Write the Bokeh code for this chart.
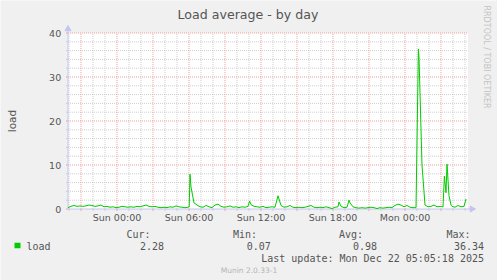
import datetime as dt
import math
from bokeh.plotting import figure
from bokeh.models import Range1d
from bokeh.core.properties import value
from bokeh.embed import file_html
from bokeh.resources import INLINE

# ---------------- data ----------------
start = dt.datetime(2025, 12, 20, 19, 55)   # Sat 19:55, first sample
minutes = [0, 15, 30, 45, 60, 75, 90, 105, 120, 135, 150, 165, 180, 195, 210, 225,
           240, 255, 270, 285, 300, 315, 330, 345, 360, 375, 390, 405, 420, 435, 450,
           465, 480, 495, 510, 525, 540, 555, 570, 585, 600, 606, 610, 615, 630, 645,
           660, 675, 690, 705, 720, 735, 750, 765, 780, 795, 810, 825, 840, 855, 870,
           885, 900, 908, 915, 930, 945, 960, 975, 990, 1005, 1020, 1035, 1050, 1065,
           1080, 1095, 1110, 1125, 1140, 1155, 1170, 1185, 1200, 1215, 1230, 1245,
           1260, 1275, 1290, 1305, 1320, 1335, 1350, 1355, 1365, 1380, 1395, 1405,
           1410, 1425, 1440, 1455, 1470, 1485, 1500, 1515, 1530, 1545, 1560, 1575,
           1590, 1605, 1620, 1635, 1650, 1665, 1680, 1695, 1710, 1725, 1740, 1752,
           1755, 1770, 1785, 1800, 1815, 1830, 1845, 1860, 1875, 1882, 1890, 1895,
           1905, 1915, 1920, 1935, 1950, 1965, 1980, 1990]
load = [0.3, 0.6, 0.8, 0.6, 0.7, 0.6, 0.7, 0.9, 0.8, 0.6, 0.7, 0.9, 0.5, 0.6, 0.4, 0.5,
        0.3, 0.4, 0.6, 0.5, 0.4, 0.5, 0.4, 0.6, 0.5, 0.7, 0.9, 0.6, 0.5, 0.6, 0.4,
        0.3, 0.4, 0.3, 0.5, 0.4, 0.7, 0.5, 0.4, 0.3, 0.4, 0.5, 7.9, 5.0, 1.4, 0.9,
        0.5, 0.4, 0.8, 0.5, 0.3, 0.9, 1.1, 0.6, 0.4, 0.5, 0.7, 0.4, 0.5, 0.3, 0.5,
        0.4, 0.6, 1.8, 1.0, 0.6, 0.5, 0.4, 0.6, 0.3, 0.4, 0.5, 0.4, 3.0, 0.8,
        0.4, 0.5, 0.8, 0.4, 0.3, 0.4, 0.3, 0.4, 0.6, 0.8, 0.4, 0.3,
        0.4, 0.3, 0.5, 0.3, 0.1, 0.4, 0.5, 1.6, 0.6, 0.3, 0.4, 2.0,
        1.4, 0.5, 0.3, 0.2, 0.3, 0.2, 0.3, 0.4, 0.3, 0.1, 0.3, 0.2,
        0.3, 0.4, 0.3, 0.8, 1.1, 0.9, 0.5, 0.8, 0.4, 0.3, 0.3, 36.34,
        34.5, 10.0, 0.9, 0.5, 0.6, 0.9, 0.5, 0.6, 0.5, 7.5, 3.7, 10.2,
        3.0, 0.9, 0.6, 0.4, 0.8, 0.5, 0.6, 2.28]

y_ticks = [0, 10, 20, 30, 40]
y_minor = [2, 4, 6, 8, 12, 14, 16, 18, 22, 24, 26, 28, 32, 34, 36, 38]
x_label_times = [dt.datetime(2025, 12, 21, 0), dt.datetime(2025, 12, 21, 6),
                 dt.datetime(2025, 12, 21, 12), dt.datetime(2025, 12, 21, 18),
                 dt.datetime(2025, 12, 22, 0)]
x_label_texts = ["Sun 00:00", "Sun 06:00", "Sun 12:00", "Sun 18:00", "Mon 00:00"]

series_name = "load"
stat_names = ["Cur:", "Min:", "Avg:", "Max:"]
stat_values = [2.28, 0.07, 0.98, 36.34]
title_text = "Load average - by day"
y_label = "load"
last_update = "Last update: Mon Dec 22 05:05:18 2025"
footer = "Munin 2.0.33-1"
side_text = "RRDTOOL / TOBI OETIKER"

# ---------------- geometry (canvas pixels -> data) ----------------
W, H = 497, 280
PX_MIN = 5.0            # minutes per pixel (400 px = 2000 min)
PX_UNIT = 4.4           # pixels per load unit
START_PX = 67.5         # canvas x of first sample
ZERO_PX = 208.5         # canvas y of load 0


def tx(cx):
    return start + dt.timedelta(minutes=(cx - START_PX) * PX_MIN)


def vy(cy):
    return (ZERO_PX - cy) / PX_UNIT


t_lo = start - dt.timedelta(minutes=0)       # frame left edge
t_hi = start + dt.timedelta(minutes=2000)     # frame right edge
v_lo, v_hi = 0, 40

times = [start + dt.timedelta(minutes=m) for m in minutes]

hour0 = dt.datetime(2025, 12, 20, 20)
all_hours = [hour0 + dt.timedelta(hours=k) for k in range(34)]
red_hours = [h for h in all_hours if h.hour % 3 == 0]
grey_hours = [h for h in all_hours if h.hour % 3 != 0]

p = figure(width=W, height=H, x_axis_type="datetime",
           x_range=Range1d(tx(0), tx(W)), y_range=Range1d(vy(H), vy(0)),
           x_axis_location=None, y_axis_location=None,
           output_backend="svg", toolbar_location=None,
           min_border=0, background_fill_color="#f0f0f0",
           border_fill_color="#f0f0f0", outline_line_color=None)
p.grid.visible = False

# plot area
p.quad(left=[t_lo], right=[t_hi], bottom=[v_lo], top=[v_hi],
       fill_color="white", line_color=None)

GREY = "#cfcfcf"
RED = "#f2a0a0"
DASH = "1 1"
tick_dt = dt.timedelta(minutes=2 * PX_MIN)
tick_dv = 2 / PX_UNIT

# minor grid
p.segment(x0=grey_hours, y0=[v_lo] * len(grey_hours), x1=grey_hours, y1=[v_hi] * len(grey_hours),
          line_color=GREY, line_dash=DASH, line_width=1)
p.segment(x0=[t_lo] * len(y_minor), y0=y_minor, x1=[t_hi] * len(y_minor), y1=y_minor,
          line_color=GREY, line_dash=DASH, line_width=1)
# major grid
p.segment(x0=red_hours, y0=[v_lo] * len(red_hours), x1=red_hours, y1=[v_hi] * len(red_hours),
          line_color=RED, line_dash=DASH, line_width=1)
p.segment(x0=[t_lo] * 4, y0=y_ticks[1:], x1=[t_hi] * 4, y1=y_ticks[1:],
          line_color=RED, line_dash=DASH, line_width=1)

# ticks
p.segment(x0=grey_hours, y0=[v_lo] * len(grey_hours), x1=grey_hours,
          y1=[v_lo - tick_dv] * len(grey_hours), line_color=GREY, line_width=1)
p.segment(x0=red_hours, y0=[v_lo] * len(red_hours), x1=red_hours,
          y1=[v_lo - tick_dv] * len(red_hours), line_color=RED, line_width=1)
p.segment(x0=[t_lo - tick_dt] * len(y_minor), y0=y_minor, x1=[t_lo] * len(y_minor), y1=y_minor,
          line_color=GREY, line_width=1)
p.segment(x0=[t_lo - tick_dt] * 5, y0=y_ticks, x1=[t_lo] * 5, y1=y_ticks,
          line_color=RED, line_width=1)

# axes with arrows
AX = "#c4c4f0"
p.segment(x0=[t_lo, t_lo], y0=[v_lo, v_lo], x1=[t_hi + tick_dt, t_lo], y1=[v_lo, v_hi + tick_dv],
          line_color=AX, line_width=1)
p.scatter(x=[t_hi + 2 * tick_dt], y=[v_lo], marker="triangle", size=6, angle=-math.pi / 2,
          fill_color=AX, line_color=AX)
p.scatter(x=[t_lo], y=[v_hi + 2 * tick_dv], marker="triangle", size=6,
          fill_color=AX, line_color=AX)

# data line
p.line(times, load, line_color="#00cc00", line_width=1)

# ---------------- texts ----------------
SANS = value("DejaVu Sans")
MONO = value("DejaVu Sans Mono")
TXT = "#555555"

p.text(x=x_label_times, y=[vy(216.5)] * 5, text=x_label_texts, text_align="center",
       text_baseline="middle", text_font=SANS, text_font_size=value("9.5px"), text_color=TXT)
p.text(x=[tx(60.7)] * 5, y=y_ticks, text=[str(v) for v in y_ticks], text_align="right",
       text_baseline="middle", text_font=SANS, text_font_size=value("9.5px"), text_color=TXT)

p.text(x=[tx(247.5)], y=[vy(13.5)], text=[title_text], text_align="center",
       text_baseline="middle", text_font=SANS, text_font_size=value("12.6px"), text_color=TXT)
p.text(x=[tx(11.5)], y=[vy(120.5)], text=[y_label], angle=math.pi / 2, text_align="center",
       text_baseline="middle", text_font=SANS, text_font_size=value("10.5px"), text_color=TXT)
p.text(x=[tx(486)], y=[vy(56.5)], text=[side_text], angle=-math.pi / 2, text_align="center",
       text_baseline="middle", text_font=SANS, text_font_size=value("8px"), text_color="#c4c4c4")

name_right = [150, 256.5, 362.5, 470]
val_right = [163.5, 270.3, 376.5, 483.5]
p.text(x=[tx(c) for c in name_right], y=[vy(234)] * 4, text=stat_names, text_align="right",
       text_baseline="middle", text_font=MONO, text_font_size=value("10px"), text_color=TXT)
p.text(x=[tx(c) for c in val_right], y=[vy(245.5)] * 4, text=[f"{v:.2f}" for v in stat_values],
       text_align="right", text_baseline="middle", text_font=MONO,
       text_font_size=value("10px"), text_color=TXT)
p.text(x=[tx(26)], y=[vy(245.5)], text=[series_name], text_align="left",
       text_baseline="middle", text_font=MONO, text_font_size=value("10px"), text_color=TXT)
p.text(x=[tx(483.5)], y=[vy(257.5)], text=[last_update], text_align="right",
       text_baseline="middle", text_font=MONO, text_font_size=value("10px"), text_color=TXT)
p.text(x=[tx(248.5)], y=[vy(269.5)], text=[footer], text_align="center",
       text_baseline="middle", text_font=SANS, text_font_size=value("7.5px"), text_color="#b4b4b4")

# legend swatch
p.quad(left=[tx(14)], right=[tx(20)], top=[vy(242.3)], bottom=[vy(247.7)],
       fill_color="#00cc00", line_color=None)

open("out.html", "w").write(file_html(p, INLINE))
